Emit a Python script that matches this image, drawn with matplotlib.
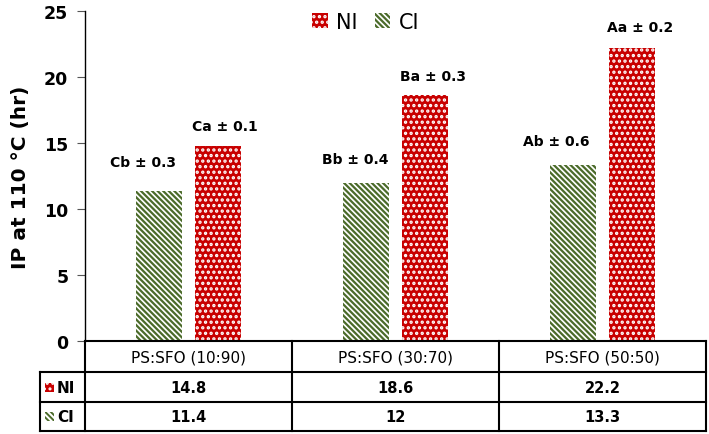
import matplotlib
matplotlib.use("Agg")
import matplotlib.pyplot as plt
import matplotlib.transforms as mtransforms
from matplotlib.patches import Rectangle
from matplotlib.lines import Line2D
import numpy as np

plt.rcParams['font.family'] = ['DejaVu Sans']

categories = ["PS:SFO (10:90)", "PS:SFO (30:70)", "PS:SFO (50:50)"]
ni_values = [14.8, 18.6, 22.2]
ci_values = [11.4, 12.0, 13.3]
ni_table = ["14.8", "18.6", "22.2"]
ci_table = ["11.4", "12", "13.3"]
ni_labels = ["Ca ± 0.1", "Ba ± 0.3", "Aa ± 0.2"]
ci_labels = ["Cb ± 0.3", "Bb ± 0.4", "Ab ± 0.6"]
yticks = [0, 5, 10, 15, 20, 25]

RED = "#C80000"
GREEN = "#4B6B2A"
NI_HATCH = "..."
CI_HATCH = "\\\\\\\\\\\\"


def style_hatch(patch, lw):
    if hasattr(patch, "set_hatch_linewidth"):
        patch.set_hatch_linewidth(lw)


W, H = 709, 435
fig = plt.figure(figsize=(W / 100, H / 100), dpi=100)
ax = fig.add_axes([85 / W, 1 - 342 / H, (706 - 85) / W, (342 - 12) / H])

x = np.arange(len(categories))
bw = 0.225
off = 0.1425
with plt.rc_context({"hatch.linewidth": 1.6}):
    ci_bars = ax.bar(x - off, ci_values, bw, facecolor="white", edgecolor=GREEN,
                     hatch=CI_HATCH, linewidth=0)
with plt.rc_context({"hatch.linewidth": 1.6}):
    ni_bars = ax.bar(x + off, ni_values, bw, facecolor=RED, edgecolor="white",
                     hatch=NI_HATCH, linewidth=0)
for p in ci_bars:
    style_hatch(p, 1.6)
for p in ni_bars:
    style_hatch(p, 1.6)

ax.set_xlim(-0.5, len(categories) - 0.5)
ax.set_ylim(0, 25)
ax.set_yticks(yticks)
ax.set_yticklabels([str(t) for t in yticks], fontsize=12.5, fontweight="bold")
ax.tick_params(axis="y", direction="out", length=6, width=0.8, color="#555555", pad=6)
ax.set_xticks([])
for s in ["top", "right", "bottom"]:
    ax.spines[s].set_visible(False)
ax.spines["left"].set_linewidth(1.0)
ax.set_ylabel("IP at 110 °C (hr)", fontsize=14.5, fontweight="bold", labelpad=10)

# value annotations (manual text boxes in the original)
ci_off = [(-16, 29), (-11, 24), (-17, 24)]
ni_off = [(7, 20), (8, 19), (8, 21)]
for i in range(len(categories)):
    ax.annotate(ci_labels[i], (x[i] - off, ci_values[i]), xytext=(ci_off[i][0] * 0.72, ci_off[i][1] * 0.72),
                textcoords="offset points", ha="center", va="center", fontsize=10, fontweight="bold")
    ax.annotate(ni_labels[i], (x[i] + off, ni_values[i]), xytext=(ni_off[i][0] * 0.72, ni_off[i][1] * 0.72),
                textcoords="offset points", ha="center", va="center", fontsize=10, fontweight="bold")

# legend at top
with plt.rc_context({"hatch.linewidth": 1.6}):
    leg = ax.legend([ni_bars[0], ci_bars[0]], ["NI", "CI"], loc="center",
                    bbox_to_anchor=(0.452, 0.967), ncol=2, frameon=False, fontsize=15,
                    handlelength=0.75, handleheight=0.75, handletextpad=0.4, columnspacing=0.8,
                    borderaxespad=0, borderpad=0)

# data table below the axes
figpix = mtransforms.Affine2D().scale(1 / W, -1 / H).translate(0, 1) + fig.transFigure
bt = mtransforms.blended_transform_factory(ax.transData, figpix)
rows_y = [342, 373, 403, 432]
lw = 1.5
fig.add_artist(Line2D([85 / W, 706 / W], [1 - 342 / H] * 2, color="black", lw=lw))
for yy in rows_y[1:]:
    fig.add_artist(Line2D([40 / W, 706 / W], [1 - yy / H] * 2, color="black", lw=lw))
fig.add_artist(Line2D([40 / W] * 2, [1 - 373 / H, 1 - 432 / H], color="black", lw=lw))
fig.add_artist(Line2D([85 / W] * 2, [1 - 342 / H, 1 - 432 / H], color="black", lw=lw))
for b in np.arange(len(categories)) + 0.5:
    ax.add_line(Line2D([b, b], [342, 432], color="black", lw=lw, transform=bt, clip_on=False))

for i in range(len(categories)):
    ax.text(x[i], 358, categories[i], transform=bt, ha="center", va="center", fontsize=11)
    ax.text(x[i], 388.5, ni_table[i], transform=bt, ha="center", va="center", fontsize=10.5, fontweight="bold")
    ax.text(x[i], 418, ci_table[i], transform=bt, ha="center", va="center", fontsize=10.5, fontweight="bold")

# row labels with legend keys
with plt.rc_context({"hatch.linewidth": 1.4}):
    fig.add_artist(Rectangle((45 / W, 1 - 393 / H), 9 / W, 9 / H, facecolor=RED, edgecolor="white",
                             hatch=NI_HATCH, linewidth=0))
    fig.add_artist(Rectangle((45 / W, 1 - 422 / H), 9 / W, 9 / H, facecolor="white", edgecolor=GREEN,
                             hatch=CI_HATCH, linewidth=0))
fig.text(57 / W, 1 - 388.5 / H, "NI", ha="left", va="center", fontsize=11, fontweight="bold")
fig.text(57 / W, 1 - 418 / H, "CI", ha="left", va="center", fontsize=11, fontweight="bold")

fig.savefig("out.png", dpi=100)
